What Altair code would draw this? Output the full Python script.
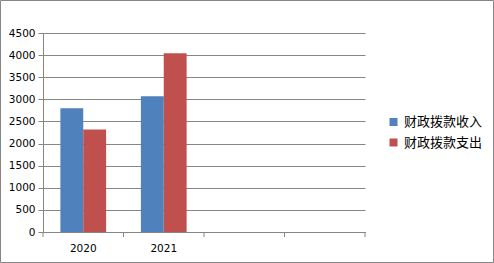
import altair as alt
import pandas as pd

categories = ["2020", "2021"]
all_slots = ["2020", "2021", " ", "  "]
series = ["财政拨款收入", "财政拨款支出"]
income = [2800, 3070]
expense = [2320, 4040]
y_ticks = list(range(0, 5000, 500))
colors = ["#4F81BD", "#C0504D"]

rows = []
for i, c in enumerate(categories):
    rows.append({"cat": c, "series": series[0], "value": income[i]})
    rows.append({"cat": c, "series": series[1], "value": expense[i]})
df = pd.DataFrame(rows)
slots_df = pd.DataFrame({"cat": all_slots})

W, H = 322, 199
grey = "#868686"
font = "DejaVu Sans"
cjk = "Noto Sans CJK SC"

xscale = alt.Scale(domain=all_slots, paddingInner=0, paddingOuter=0)
xaxis = alt.Axis(title=None, labelAngle=0, ticks=False, domainColor=grey,
                 labelFont=font, labelFontSize=10.5, labelColor="black",
                 labelPadding=11)

bars = alt.Chart(df).mark_bar().encode(
    x=alt.X("cat:N", scale=xscale, sort=all_slots, axis=xaxis),
    xOffset=alt.XOffset("series:N", sort=series,
                        scale=alt.Scale(domain=series, paddingInner=0, paddingOuter=0.76)),
    y=alt.Y("value:Q", scale=alt.Scale(domain=[0, 4500], nice=False),
            axis=alt.Axis(title=None, values=y_ticks, format="d", grid=True, gridColor=grey,
                          domainColor=grey, tickColor=grey, tickSize=5, labelPadding=3,
                          labelFont=font, labelFontSize=10.5, labelColor="black")),
    color=alt.Color("series:N", sort=series,
                    scale=alt.Scale(domain=series, range=colors),
                    legend=alt.Legend(title=None, orient="none", legendX=344, legendY=82.5,
                                      symbolType="square", symbolSize=64, symbolStrokeWidth=0,
                                      labelFont=cjk, labelFontSize=13, labelColor="black",
                                      labelOffset=4, rowPadding=6.5, padding=0)),
)

ticks = alt.Chart(slots_df).mark_rule(color=grey).encode(
    x=alt.X("cat:N", scale=xscale, sort=all_slots, bandPosition=0, axis=xaxis),
    y=alt.value(H), y2=alt.value(H + 5),
)
end_tick = alt.Chart(pd.DataFrame({"a": [0]})).mark_rule(color=grey).encode(
    x=alt.value(W), y=alt.value(H), y2=alt.value(H + 5),
)
frame = alt.Chart(pd.DataFrame({"a": [0]})).mark_rect(filled=False, stroke=grey, strokeWidth=1).encode(
    x=alt.value(-42.5), x2=alt.value(450.5), y=alt.value(-32.5), y2=alt.value(229.5),
)

chart = alt.layer(bars, ticks, end_tick, frame).properties(
    width=W, height=H,
    padding={"left": 43, "top": 33, "right": 129, "bottom": 31},
    autosize=alt.AutoSizeParams(type="none"),
    background="white",
).configure_view(stroke=None)

chart.save("out.html", embed_options={"renderer": "svg", "actions": False})
